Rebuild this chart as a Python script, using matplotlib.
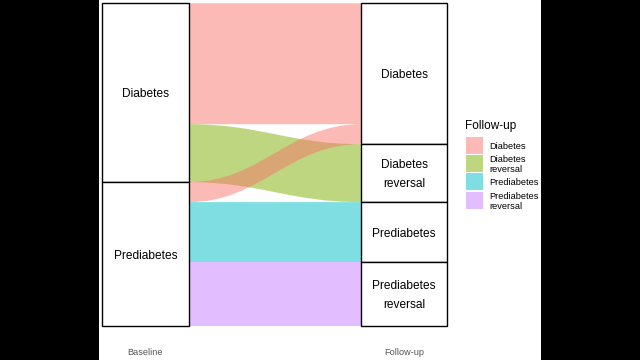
import numpy as np
import matplotlib
matplotlib.use("Agg")
import matplotlib.pyplot as plt
from matplotlib.patches import Rectangle, PathPatch
from matplotlib.path import Path
from matplotlib.transforms import offset_copy

plt.rcParams['font.family'] = ['Liberation Sans', 'DejaVu Sans']

# ---- data ----
baseline_levels = ["Diabetes", "Prediabetes"]
followup_levels = ["Diabetes", "Diabetes reversal", "Prediabetes", "Prediabetes reversal"]
followup_labels = ["Diabetes", "Diabetes\nreversal", "Prediabetes", "Prediabetes\nreversal"]
flow_from = ["Diabetes", "Diabetes", "Prediabetes", "Prediabetes", "Prediabetes"]
flow_to = ["Diabetes", "Diabetes reversal", "Diabetes", "Prediabetes", "Prediabetes reversal"]
flow_count = [121, 58, 20, 60, 64]
axis_labels = ["Baseline", "Follow-up"]
level_colors = {"Diabetes": "#F8766D", "Diabetes reversal": "#7CAE00",
                "Prediabetes": "#00BFC4", "Prediabetes reversal": "#C77CFF"}

total = sum(flow_count)
W = 1 / 3  # stratum width

fig = plt.figure(figsize=(6.4, 3.6), dpi=100, facecolor="black")
# white panel
fig.patches.append(Rectangle((98.5 / 640, 0), (541.3 - 98.5) / 640, 1,
                             transform=fig.transFigure, facecolor="white",
                             edgecolor="none", zorder=-5))
ax = fig.add_axes([102.3 / 640, (360 - 326) / 360, 345 / 640, 322.7 / 360])
ax.set_facecolor("none")
ax.set_xlim(1 - W / 2, 2 + W / 2)
ax.set_ylim(0, total)
for s in ax.spines.values():
    s.set_visible(False)
ax.set_yticks([])
txt_tr = offset_copy(ax.transData, fig=fig, x=0, y=-1.5, units="dots")


def stratum_sizes(levels, key_list):
    return [sum(c for k, c in zip(key_list, flow_count) if k == lv) for lv in levels]


def stratum_tops(sizes):
    tops, cur = [], total
    for s in sizes:
        tops.append(cur)
        cur -= s
    return tops


b_sizes = stratum_sizes(baseline_levels, flow_from)
f_sizes = stratum_sizes(followup_levels, flow_to)
b_tops = dict(zip(baseline_levels, stratum_tops(b_sizes)))
f_tops = dict(zip(followup_levels, stratum_tops(f_sizes)))

# positions of flows within strata
b_cur = dict(b_tops)
f_cur = dict(f_tops)
flows = []
for fr, to, c in zip(flow_from, flow_to, flow_count):
    flows.append((fr, to, c, b_cur[fr], f_cur[to]))
    b_cur[fr] -= c
    f_cur[to] -= c

x0 = 1 + W / 2
x1 = 2 - W / 2
dx = x1 - x0
k = 0.42
for fr, to, c, yl, yr in flows:
    verts = [(x0, yl), (x0 + k * dx, yl), (x1 - k * dx, yr), (x1, yr),
             (x1, yr - c), (x1 - k * dx, yr - c), (x0 + k * dx, yl - c), (x0, yl - c),
             (x0, yl)]
    codes = [Path.MOVETO, Path.CURVE4, Path.CURVE4, Path.CURVE4,
             Path.LINETO, Path.CURVE4, Path.CURVE4, Path.CURVE4, Path.CLOSEPOLY]
    ax.add_patch(PathPatch(Path(verts, codes), facecolor=level_colors[to],
                           alpha=0.5, edgecolor="none", zorder=1))

# strata boxes
for lv, sz in zip(baseline_levels, b_sizes):
    top = b_tops[lv]
    ax.add_patch(Rectangle((1 - W / 2, top - sz), W, sz, facecolor="white",
                           edgecolor="black", lw=1.0, zorder=3, clip_on=False))
    ax.text(1, top - sz / 2, lv, ha="center", va="center", fontsize=8.6, zorder=4,
            transform=txt_tr)
for lv, lab, sz in zip(followup_levels, followup_labels, f_sizes):
    top = f_tops[lv]
    ax.add_patch(Rectangle((2 - W / 2, top - sz), W, sz, facecolor="white",
                           edgecolor="black", lw=1.0, zorder=3, clip_on=False))
    ax.text(2, top - sz / 2, lab, ha="center", va="center", fontsize=8.6,
            linespacing=1.7, zorder=4, transform=txt_tr)

ax.set_xticks([1, 2])
ax.set_xticklabels(axis_labels, fontsize=6.6, color="#555555")
ax.tick_params(axis="x", length=0, pad=15.5)

# legend
fig.text(465 / 640, 1 - 126 / 360, "Follow-up", fontsize=8.5, ha="left", va="center")
key_rows = [(137, 154), (155, 172), (173, 190), (192, 209)]
for lv, lab, (ya, yb) in zip(followup_levels, followup_labels, key_rows):
    fig.patches.append(Rectangle((466 / 640, 1 - yb / 360), 17 / 640, (yb - ya) / 360,
                                 transform=fig.transFigure, facecolor=level_colors[lv],
                                 alpha=0.5, edgecolor="none"))
    fig.text(489 / 640, 1 - ((ya + yb) / 2 + 0.7) / 360, lab, fontsize=6.7, ha="left",
             va="center", linespacing=1.1)

fig.savefig("out.png", dpi=100, facecolor="black")
